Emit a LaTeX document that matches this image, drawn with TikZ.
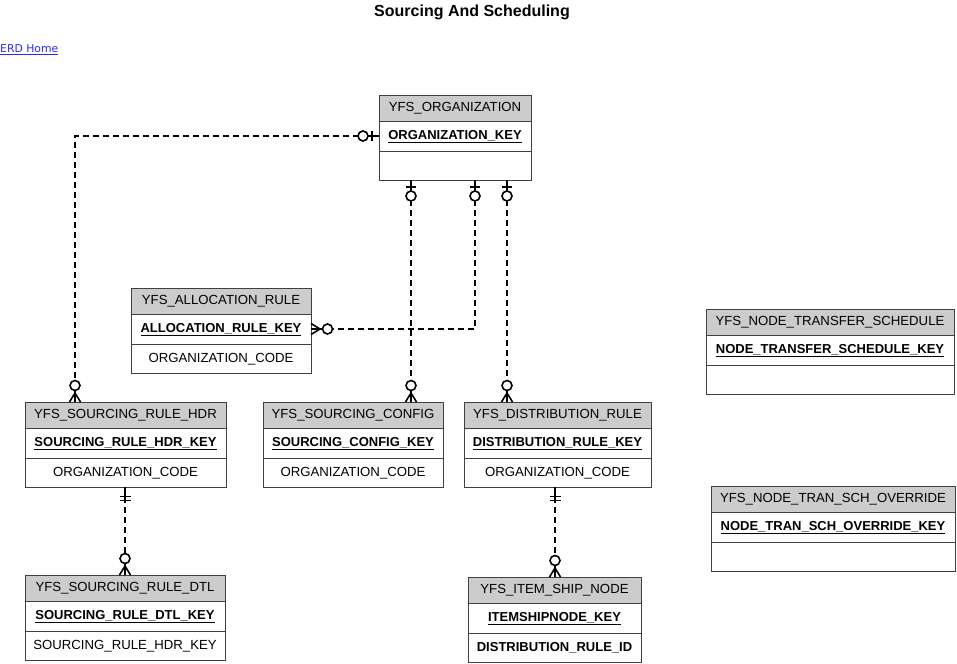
\documentclass[tikz,border=0pt]{standalone}
\usepackage{fontspec}
\setmainfont{Liberation Sans}
\newfontfamily\linkfont{DejaVu Sans}
\usetikzlibrary{positioning,decorations.markings}
\definecolor{linkblue}{RGB}{40,40,255}
\tikzset{
  tblhead/.style={draw=black!75,line width=0.8pt,fill=gray!40,outer sep=0pt,inner sep=0pt,
    minimum height=26pt,anchor=north west,text height=9.5pt,text depth=2.5pt,
    font=\fontsize{13.2}{15}\selectfont},
  tblkey/.style={draw=black!75,line width=0.8pt,fill=white,outer sep=0pt,inner sep=0pt,
    minimum height=30pt,text height=9.5pt,text depth=2.5pt,
    font=\fontsize{13}{15}\selectfont\bfseries},
  tblrow/.style={draw=black!75,line width=0.8pt,fill=white,outer sep=0pt,inner sep=0pt,
    minimum height=29pt,text height=9.5pt,text depth=2.5pt,
    font=\fontsize{13.2}{15}\selectfont},
  rel/.style={line width=1.6pt,dash pattern=on 6pt off 4pt},
  zmany/.style={postaction={decorate,decoration={markings,mark=at position 1 with {
      \draw[solid,fill=white] (-16.5pt,0pt) circle[radius=5pt];
      \draw[solid] (-11.5pt,0pt) -- (0pt,0pt);
      \draw[solid] (0pt,5.5pt) -- (-9pt,0pt) -- (0pt,-5.5pt);}}}},
  zone/.style={postaction={decorate,decoration={markings,mark=at position 0 with {
      \draw[solid] (0pt,0pt) -- (11pt,0pt);
      \draw[solid] (7pt,-5pt) -- (7pt,5pt);
      \draw[solid,fill=white] (16pt,0pt) circle[radius=5pt];}}}},
  oone/.style={postaction={decorate,decoration={markings,mark=at position 0 with {
      \draw[solid] (0pt,0pt) -- (16pt,0pt);
      \draw[solid] (9.5pt,-5.5pt) -- (9.5pt,5.5pt);
      \draw[solid] (13.5pt,-5.5pt) -- (13.5pt,5.5pt);}}}}
}
\begin{document}
\begin{tikzpicture}[x=1pt,y=-1pt]
  \useasboundingbox (0,0) rectangle (957,663);

  \node[font=\fontsize{16}{18}\selectfont\bfseries] (title) at (472,12) {Sourcing And Scheduling};
  \node[anchor=west,inner sep=0pt,text=linkblue,font=\linkfont\fontsize{10.8}{12}\selectfont] (home) at (0,50) {\underline{ERD Home}};

  % tables
  \node[tblhead,minimum width=152pt] (orgname) at (379,95) {YFS\_ORGANIZATION};
  \node[tblkey,minimum width=152pt,below=0pt of orgname] (orgkey) {\underline{ORGANIZATION\_KEY}};
  \node[tblrow,minimum width=152pt,below=0pt of orgkey] (orgattr) {};

  \node[tblhead,minimum width=180pt] (allocname) at (131,288) {YFS\_ALLOCATION\_RULE};
  \node[tblkey,minimum width=180pt,below=0pt of allocname] (allockey) {\underline{ALLOCATION\_RULE\_KEY}};
  \node[tblrow,minimum width=180pt,below=0pt of allockey] (allocattr) {ORGANIZATION\_CODE};

  \node[tblhead,minimum width=201pt] (hdrname) at (25,402) {YFS\_SOURCING\_RULE\_HDR};
  \node[tblkey,minimum width=201pt,below=0pt of hdrname] (hdrkey) {\underline{SOURCING\_RULE\_HDR\_KEY}};
  \node[tblrow,minimum width=201pt,below=0pt of hdrkey] (hdrattr) {ORGANIZATION\_CODE};

  \node[tblhead,minimum width=180pt] (cfgname) at (263,402) {YFS\_SOURCING\_CONFIG};
  \node[tblkey,minimum width=180pt,below=0pt of cfgname] (cfgkey) {\underline{SOURCING\_CONFIG\_KEY}};
  \node[tblrow,minimum width=180pt,below=0pt of cfgkey] (cfgattr) {ORGANIZATION\_CODE};

  \node[tblhead,minimum width=187pt] (distname) at (464,402) {YFS\_DISTRIBUTION\_RULE};
  \node[tblkey,minimum width=187pt,below=0pt of distname] (distkey) {\underline{DISTRIBUTION\_RULE\_KEY}};
  \node[tblrow,minimum width=187pt,below=0pt of distkey] (distattr) {ORGANIZATION\_CODE};

  \node[tblhead,minimum width=200pt] (dtlname) at (25,575) {YFS\_SOURCING\_RULE\_DTL};
  \node[tblkey,minimum width=200pt,below=0pt of dtlname] (dtlkey) {\underline{SOURCING\_RULE\_DTL\_KEY}};
  \node[tblrow,minimum width=200pt,below=0pt of dtlkey] (dtlattr) {SOURCING\_RULE\_HDR\_KEY};

  \node[tblhead,minimum width=173pt] (itemname) at (468,577) {YFS\_ITEM\_SHIP\_NODE};
  \node[tblkey,minimum width=173pt,below=0pt of itemname] (itemkey) {\underline{ITEMSHIPNODE\_KEY}};
  \node[tblrow,minimum width=173pt,below=0pt of itemkey,font=\fontsize{13}{15}\selectfont\bfseries] (itemattr) {DISTRIBUTION\_RULE\_ID};

  \node[tblhead,minimum width=248pt] (ntsname) at (706,309) {YFS\_NODE\_TRANSFER\_SCHEDULE};
  \node[tblkey,minimum width=248pt,below=0pt of ntsname] (ntskey) {\underline{NODE\_TRANSFER\_SCHEDULE\_KEY}};
  \node[tblrow,minimum width=248pt,below=0pt of ntskey] (ntsattr) {};

  \node[tblhead,minimum width=244pt] (ntoname) at (711,486) {YFS\_NODE\_TRAN\_SCH\_OVERRIDE};
  \node[tblkey,minimum width=244pt,below=0pt of ntoname] (ntokey) {\underline{NODE\_TRAN\_SCH\_OVERRIDE\_KEY}};
  \node[tblrow,minimum width=244pt,below=0pt of ntokey] (ntoattr) {};

  % relations
  \coordinate (o1) at ([xshift=32pt]orgattr.south west);
  \coordinate (o2) at ([xshift=96pt]orgattr.south west);
  \coordinate (o3) at ([xshift=128pt]orgattr.south west);
  \coordinate (h1) at ([xshift=50pt]hdrname.north west);
  \coordinate (h2) at ([xshift=100pt]hdrattr.south west);
  \coordinate (d1) at ([xshift=91pt]distattr.south west);

  \draw[rel,zone,zmany] (orgkey.west) -| (h1);
  \draw[rel,zone,zmany] (o1) -- (o1 |- cfgname.north);
  \draw[rel,zone,zmany] (o2) |- (allockey.east);
  \draw[rel,zone,zmany] (o3) -- (o3 |- distname.north);
  \draw[rel,oone,zmany] (h2) -- (h2 |- dtlname.north);
  \draw[rel,oone,zmany] (d1) -- (d1 |- itemname.north);
\end{tikzpicture}
\end{document}
